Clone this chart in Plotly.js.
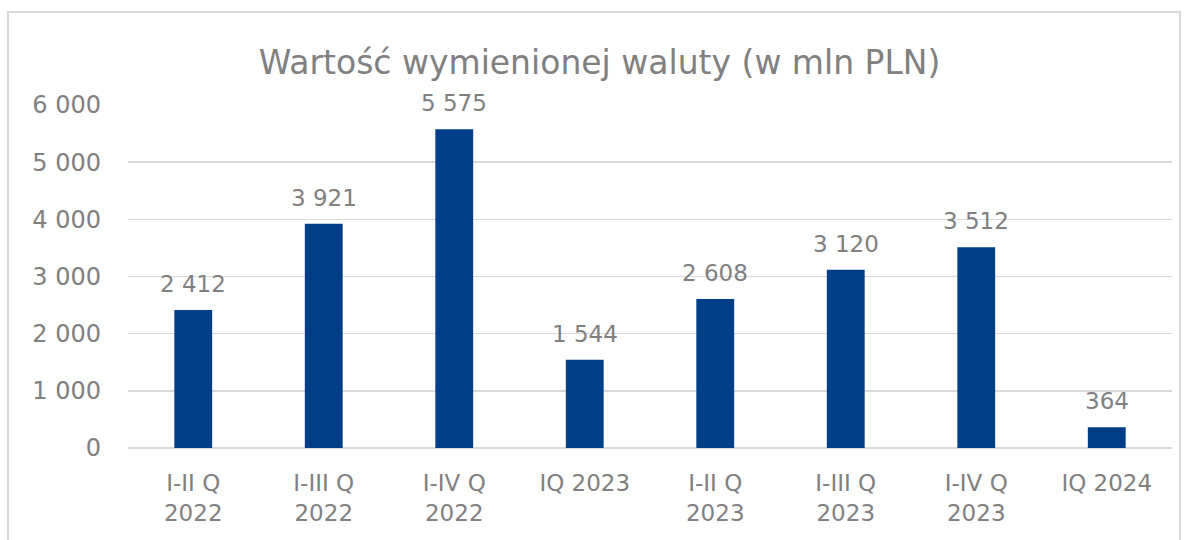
<!DOCTYPE html>
<html>
<head>
<meta charset="utf-8">
<script src="https://cdn.plot.ly/plotly-3.0.1.min.js"></script>
<style>
  body { margin: 0; background: #fff; }
  #plotArea { width: 1192px; height: 540px; }
</style>
</head>
<body>
<div id="plotArea"></div>
<script>
// kategorie i wartosci
var periods = ["I-II Q<br>2022", "I-III Q<br>2022", "I-IV Q<br>2022", "IQ 2023",
               "I-II Q<br>2023", "I-III Q<br>2023", "I-IV Q<br>2023", "IQ 2024"];
var values = [2412, 3921, 5575, 1544, 2608, 3120, 3512, 364];
var yTicks = [0, 1000, 2000, 3000, 4000, 5000, 6000];

var gray = "#808080";
var font = "DejaVu Sans, sans-serif";

var trace = {
  x: periods,
  y: values,
  type: "bar",
  marker: {color: "#003f87"},
  hoverinfo: "none"
};

// etykiety nad slupkami (separator tysiecy = spacja)
var labels = values.map(function(v, i) {
  var s = String(v);
  if (s.length > 3) s = s.slice(0, s.length - 3) + " " + s.slice(-3);
  return {
    x: periods[i], y: v, xref: "x", yref: "y",
    text: s,
    showarrow: false, yanchor: "bottom", yshift: 11,
    font: {family: font, size: 23, color: gray}
  };
});

var layout = {
  width: 1192,
  height: 540,
  margin: {l: 128, r: 20, t: 105, b: 92},
  separators: ", ",
  paper_bgcolor: "#fff",
  plot_bgcolor: "#fff",
  showlegend: false,
  bargap: 0.71,
  title: {
    text: "Wartość wymienionej waluty (w mln PLN)",
    font: {family: font, size: 33, color: gray},
    x: 0.503, xanchor: "center",
    y: 0.885, yanchor: "middle"
  },
  xaxis: {
    tickfont: {family: font, size: 23, color: gray},
    showline: false,
    ticks: "",
    ticklabelstandoff: 19,
    fixedrange: true
  },
  yaxis: {
    range: [0, 6000],
    tickvals: yTicks,
    tickformat: ",d",
    tickfont: {family: font, size: 24, color: gray},
    gridcolor: "#d9d9d9",
    gridwidth: 1.5,
    zeroline: true,
    zerolinecolor: "#d9d9d9",
    zerolinewidth: 1.5,
    ticklabelstandoff: 26,
    fixedrange: true
  },
  annotations: labels,
  shapes: [{
    type: "rect", xref: "paper", yref: "paper",
    x0: -0.115, x1: 1.0077, y0: -0.4, y1: 1.271,
    line: {color: "#d9d9d9", width: 2},
    layer: "below"
  }]
};

Plotly.newPlot("plotArea", [trace], layout, {displayModeBar: false, staticPlot: true});
</script>
</body>
</html>
